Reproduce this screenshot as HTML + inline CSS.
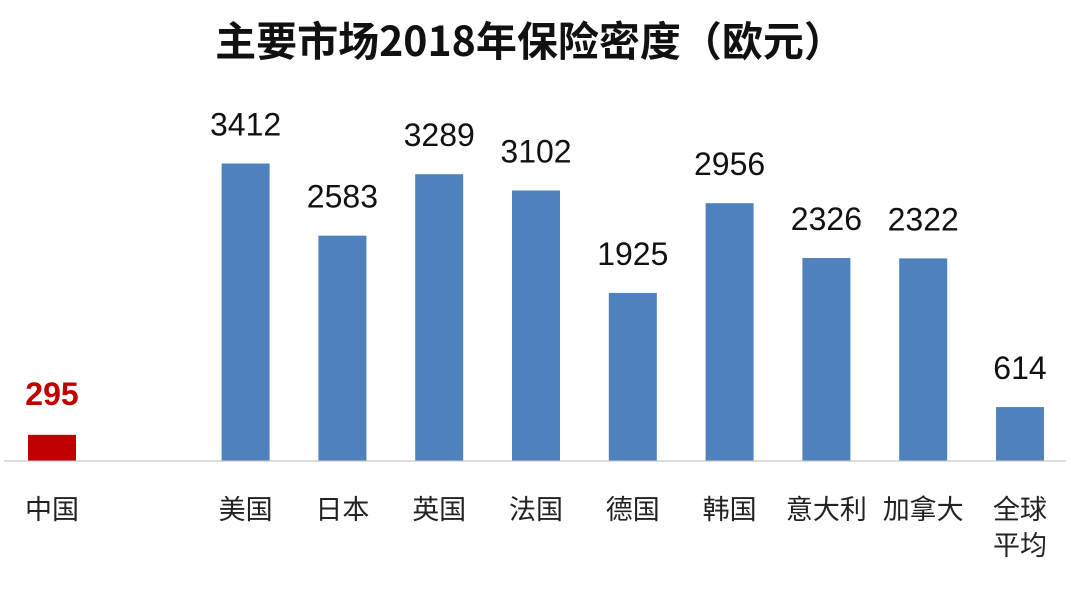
<!DOCTYPE html>
<html><head><meta charset="utf-8"><style>
html,body{margin:0;padding:0;background:#fff;}
svg{display:block;font-family:"Liberation Sans","Noto Sans CJK SC",sans-serif;}
</style></head><body>
<svg id="chart" width="1071" height="591" viewBox="0 0 1071 591">
<text x="530" y="56" text-anchor="middle" font-size="41" font-weight="bold" fill="#111" font-family="'Noto Sans CJK SC',sans-serif">主要市场2018年保险密度（欧元）</text>
<line x1="4" y1="461" x2="1066" y2="461" stroke="#d0d0d0" stroke-width="1.5"/>
<g id="bars"></g>
</svg>
<script>
const categories=["中国","","美国","日本","英国","法国","德国","韩国","意大利","加拿大","全球|平均"];
const values=[295,null,3412,2583,3289,3102,1925,2956,2326,2322,614];
const highlight=[true,false,false,false,false,false,false,false,false,false,false];
const baseY=460.5, scale=297/3412, x0=52, step=96.8, bw=48;
const yAxis=v=>baseY-v*scale;
const xAxis=i=>x0+i*step;
const g=document.getElementById('bars');
const ns='http://www.w3.org/2000/svg';
categories.forEach((c,i)=>{
  const cx=xAxis(i);
  if(values[i]!=null){
    const v=values[i], top=yAxis(v);
    const r=document.createElementNS(ns,'rect');
    
    
    r.setAttribute('x',cx-bw/2);r.setAttribute('y',top);
    r.setAttribute('width',bw);r.setAttribute('height',baseY-top);
    r.setAttribute('fill',highlight[i]?'#c00000':'#4f81bd');
    g.appendChild(r);
    const t=document.createElementNS(ns,'text');
    
    
    t.setAttribute('x',cx);t.setAttribute('y',top-(highlight[i]?30:28));
    t.setAttribute('text-anchor','middle');
    t.setAttribute('font-size','32');
    if(highlight[i]){t.setAttribute('font-weight','bold');t.setAttribute('fill','#c00000');}
    else t.setAttribute('fill','#111');
    t.textContent=v;
    g.appendChild(t);
  }
  if(c){
    c.split('|').forEach((line,k)=>{
      const t=document.createElementNS(ns,'text');
      
      
      t.setAttribute('x',cx);t.setAttribute('y',519+k*36);
      t.setAttribute('text-anchor','middle');
      t.setAttribute('font-size','27');
      t.setAttribute('fill','#222');
      t.textContent=line;
      g.appendChild(t);
    });
  }
});
</script>
</body></html>
